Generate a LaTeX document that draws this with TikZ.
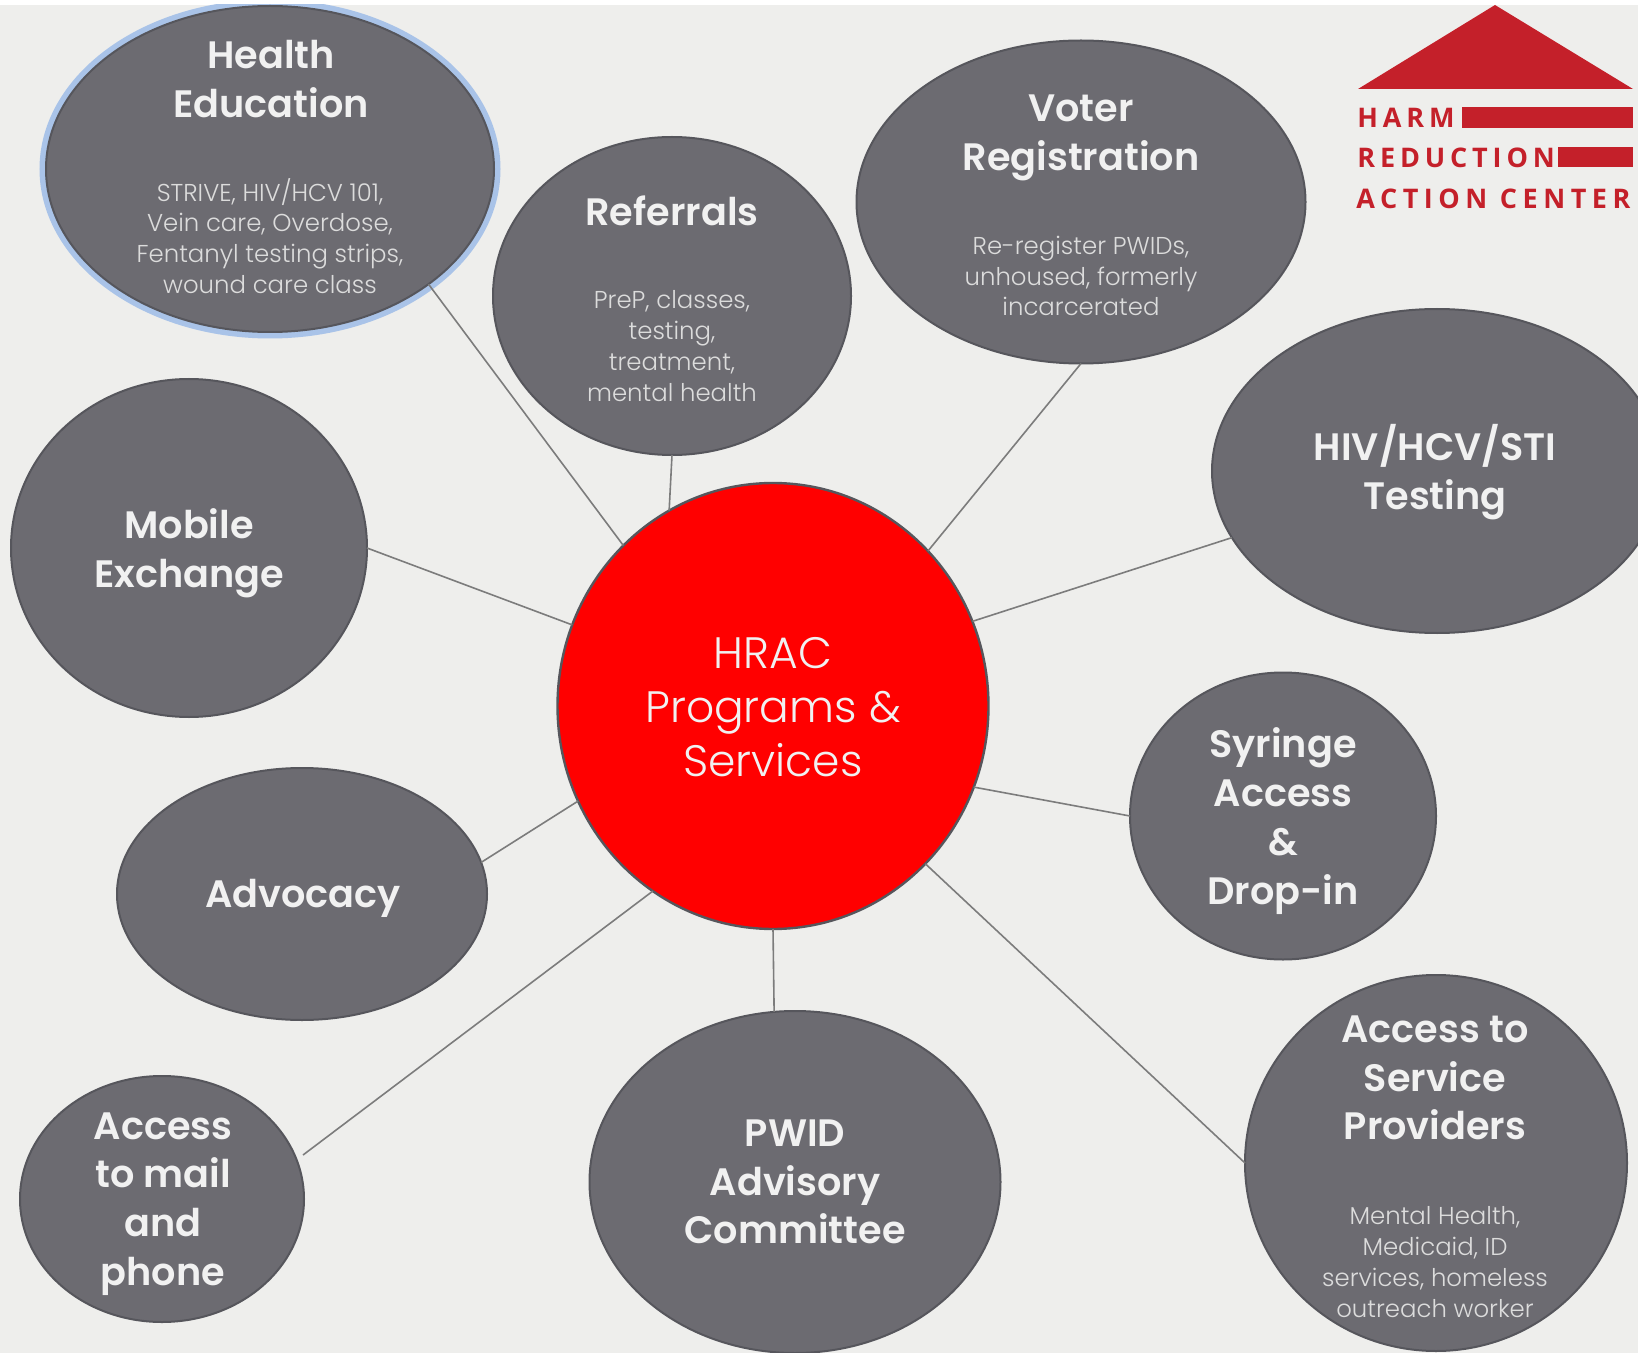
\documentclass[tikz,border=0pt]{standalone}
\usepackage{fontspec}
\usetikzlibrary{shapes.geometric}
\setmainfont{Poppins}
\newfontfamily\titlefont{Poppins SemiBold}
\newfontfamily\bodyfont{Poppins Light}
\newfontfamily\logofont[LetterSpace=18]{Open Sans Bold}
\newfontfamily\logofontw[LetterSpace=20.5]{Open Sans Bold}
\definecolor{bgc}{HTML}{EEEEEC}
\definecolor{bubc}{HTML}{6C6B71}
\definecolor{edgec}{HTML}{56565C}
\definecolor{linec}{HTML}{7C7C7C}
\definecolor{logoc}{HTML}{C4202A}
\definecolor{halo}{HTML}{A9C3E8}
\definecolor{ttxt}{HTML}{F1F1F1}
\definecolor{stxt}{HTML}{DCDCDC}
\tikzset{
  bub/.style 2 args={ellipse,draw=edgec,fill=bubc,line width=1pt,inner sep=0pt,outer sep=0pt,minimum width=#1*0.5pt,minimum height=#2*0.5pt},
  ttl/.style={align=center,text=ttxt,font=\titlefont\fontsize{19.1}{24.4}\selectfont,inner sep=0pt},
  sub/.style={align=center,text=stxt,font=\bodyfont\fontsize{12.2}{15.4}\selectfont,inner sep=0pt},
  conn/.style={draw=linec,line width=0.8pt},
  logotxt/.style={anchor=base west,text=logoc,font=\logofont\fontsize{13.5}{15}\selectfont,inner sep=0pt},
  logotxtw/.style={logotxt,font=\logofontw\fontsize{13.5}{15}\selectfont}
}
\begin{document}
\begin{tikzpicture}[x=0.5pt,y=-0.5pt]
\useasboundingbox (0,0) rectangle (1638,1353);
\fill[white] (0,0) rectangle (1638,1353);
\fill[bgc] (0,5) rectangle (1638,1353);
\begin{scope}
\clip (0,5) rectangle (1638,1353);
\node[bub={448}{326},preaction={draw=halo,line width=6.5pt}] (health) at (270,169) {};
\node[bub={358}{318}] (ref) at (672,296) {};
\node[bub={449}{323}] (voter) at (1081,202) {};
\node[bub={450}{324}] (hiv) at (1437,471) {};
\node[bub={356}{338}] (mobile) at (189,548) {};
\node[bub={370}{252}] (adv) at (302,894) {};
\node[bub={431}{446},fill=red,line width=1.2pt] (hrac) at (773,706) {};
\node[bub={306}{287}] (syr) at (1283,816) {};
\node[bub={382}{376}] (svc) at (1436,1163) {};
\node[bub={411}{342}] (pwid) at (795,1182) {};
\node[bub={284}{246}] (mail) at (162,1199) {};
\end{scope}
\coordinate (mailend) at (303,1155);
\draw[conn] (health.-36) -- (hrac.133.5);
\draw[conn] (ref.-90.7) -- (hrac.118);
\draw[conn] (voter.-90) -- (hrac.45.7);
\draw[conn] (hiv.198.3) -- (hrac.23.8);
\draw[conn] (mobile.0) -- (hrac.158.6);
\draw[conn] (syr.180) -- (hrac.-22.7);
\draw[conn] (svc.180) -- (hrac.-46);
\draw[conn] (pwid.97.3) -- (hrac.-90);
\draw[conn] (adv.10) -- (hrac.206.8);
\draw[conn] (mailend) -- (hrac.237.6);
\node[ttl] (t1) at (271,79) {Health\\Education};
\node[sub] (s1) at (270,236) {STRIVE, HIV/HCV 101,\\Vein care, Overdose,\\Fentanyl testing strips,\\wound care class};
\node[ttl] (t2) at (672,211) {Referrals};
\node[sub] (s2) at (672,346) {PreP, classes,\\testing,\\treatment,\\mental health};
\node[ttl] (t3) at (1081,138) {Voter\\Registration};
\node[sub] (s3) at (1081,276) {Re-register PWIDs,\\unhoused, formerly\\incarcerated};
\node[ttl] (t4) at (1435,472) {HIV/HCV/STI\\Testing};
\node[ttl] (t5) at (189,553) {Mobile\\Exchange};
\node[ttl] (t6) at (1283,821) {Syringe\\Access\\\&\\Drop-in};
\node[ttl] (t7) at (303,898) {Advocacy};
\node[ttl] (t8) at (1435,1078) {Access to\\Service\\Providers};
\node[sub] (s8) at (1435,1262) {Mental Health,\\Medicaid, ID\\services, homeless\\outreach worker};
\node[ttl] (t9) at (795,1182) {PWID\\Advisory\\Committee};
\node[ttl] (t10) at (163,1204) {Access\\to mail\\and\\phone};
\node[align=center,text=ttxt,font=\bodyfont\fontsize{22}{27}\selectfont,inner sep=0pt] (t11) at (773,707) {HRAC\\Programs \&\\Services};
\fill[logoc] (1358,89) -- (1495,5) -- (1633,89) -- cycle;
\fill[logoc] (1462,107) rectangle (1633,128);
\fill[logoc] (1558,147) rectangle (1633,167);
\node[logotxt] (l1) at (1357,128) {HARM};
\node[logotxt] (l2) at (1357,168) {REDUCTION};
\node[logotxtw] (l3) at (1356,209) {ACTION CENTER};
\end{tikzpicture}
\end{document}
